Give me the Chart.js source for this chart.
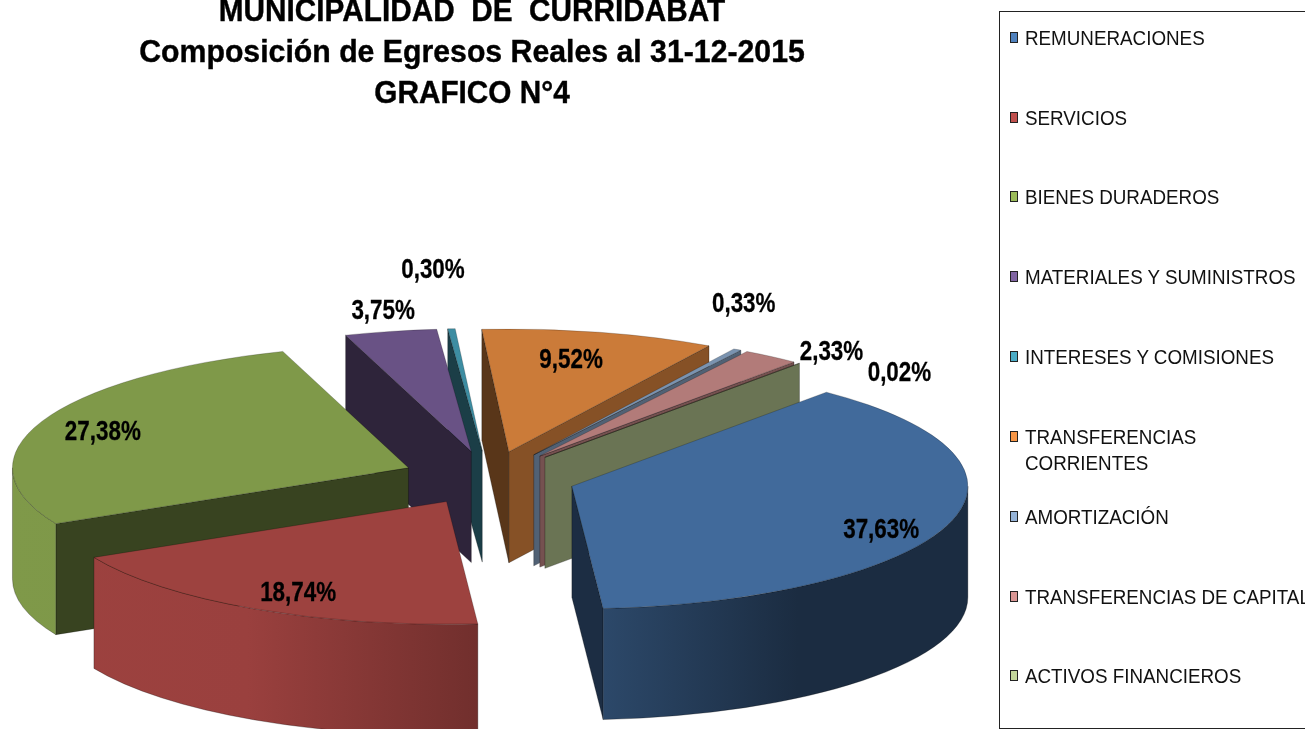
<!DOCTYPE html>
<html lang="es">
<head>
<meta charset="utf-8">
<title>Composición de Egresos Reales</title>
<script src="https://cdn.jsdelivr.net/npm/chart.js@4"></script>
<style>
    html, body { margin: 0; padding: 0; background: #fff; }
    #page { position: relative; width: 1305px; height: 729px; overflow: hidden; font-family: "Liberation Sans", Arial, sans-serif; }
    canvas { position: absolute; left: 0; top: 0; }
    #title { position: absolute; left: 0; top: -10px; width: 944px; text-align: center; font-weight: bold; font-size: 32px; line-height: 41px; color: #000; -webkit-text-stroke: 0.4px #000; }
    #title div { white-space: pre; transform: scaleX(0.93); }
    #title div:nth-child(2) { transform: scaleX(0.945); }
    #legend { position: absolute; left: 999px; top: 11px; width: 400px; height: 716px; border: 1px solid #222; }
    .item { position: absolute; left: 0; width: 400px; font-size: 20px; line-height: 26px; color: #111; white-space: pre; }
    .swatch { position: absolute; left: 10px; top: 7px; width: 6px; height: 9px; border: 1.5px solid #222; }
    .text { position: absolute; left: 25px; top: 0; transform: scaleX(0.94); transform-origin: left top; }
</style>
</head>
<body>
<div id="page">
    <canvas id="chart" width="1305" height="729"></canvas>
    <div id="title"></div>
    <div id="legend"></div>
</div>
<script>
const TITLE_LINES = ['MUNICIPALIDAD  DE  CURRIDABAT', 'Composición de Egresos Reales al 31-12-2015', 'GRAFICO N°4'];
const CATEGORIES = ['REMUNERACIONES', 'SERVICIOS', 'BIENES DURADEROS', 'MATERIALES Y SUMINISTROS', 'INTERESES Y COMISIONES',
    'TRANSFERENCIAS\nCORRIENTES', 'AMORTIZACIÓN', 'TRANSFERENCIAS DE CAPITAL', 'ACTIVOS FINANCIEROS'];
const VALUES = [37.63, 18.74, 27.38, 3.75, 0.30, 9.52, 0.33, 2.33, 0.02];
const COLORS = ['#4f81bd', '#c0504d', '#9bbb59', '#8064a2', '#4bacc6', '#f79646', '#95b3d7', '#d99694', '#c3d69b'];

// Décalage des étiquettes (px) par rapport à leur ancre sur la tranche
const LABEL_NUDGE_X = [0, 10, -5, -22, -24, -12, 43, 102, 146];
const LABEL_NUDGE_Y = [13, 4, 3, -42, -80, 7, -64, -22, -7];
// Centre de chaque ligne de la légende
const LEGEND_ROWS = [38, 118, 197, 277, 357, 437, 517, 597, 676];

const RADIUS = 396;
const SQUASH = 0.31;   // aplatissement de la perspective
const EXPLODE = 87;    // éloignement des tranches
const DEPTH = 111;     // épaisseur du camembert
const TOP_SHADE = 0.82;
const LABEL_ANCHOR = 0.82;
// Ombrage du mur courbe selon la position horizontale
const WALL_STOPS = [[0, 1], [0.25, 0.98], [0.49, 0.72], [0.62, 0.68], [0.82, 0.42], [1, 0.42]];

/**
 * Assombrit une couleur hexadécimale.
 * @param {string} hex - La couleur de base.
 * @param {number} f - Le facteur de luminosité.
 */
function shade(hex, f) {
    const n = parseInt(hex.slice(1), 16);
    const r = Math.round((n >> 16 & 255) * f);
    const g = Math.round((n >> 8 & 255) * f);
    const b = Math.round((n & 255) * f);
    return `rgb(${r}, ${g}, ${b})`;
}

function sliceApex(arc) {
    const mid = (arc.startAngle + arc.endAngle) / 2;
    return {
        x: arc.x + EXPLODE * Math.cos(mid),
        y: arc.y + EXPLODE * SQUASH * Math.sin(mid)
    };
}

function drawRadialWall(ctx, apex, arc, angle, color) {
    const ry = arc.outerRadius * SQUASH;
    const rimX = apex.x + arc.outerRadius * Math.cos(angle);
    const rimY = apex.y + ry * Math.sin(angle);
    ctx.beginPath();
    ctx.moveTo(apex.x, apex.y);
    ctx.lineTo(rimX, rimY);
    ctx.lineTo(rimX, rimY + DEPTH);
    ctx.lineTo(apex.x, apex.y + DEPTH);
    ctx.closePath();
    ctx.fillStyle = color;
    ctx.fill();
    ctx.stroke();
}

function drawOuterWall(ctx, apex, arc, base) {
    const from = Math.max(arc.startAngle, 0);
    const to = Math.min(arc.endAngle, Math.PI);
    if (from >= to) return;
    const R = arc.outerRadius;
    const ry = R * SQUASH;
    const left = arc.x - R - EXPLODE;
    const grad = ctx.createLinearGradient(left, 0, arc.x + R + EXPLODE, 0);
    WALL_STOPS.forEach(([pos, f]) => grad.addColorStop(pos, shade(base, TOP_SHADE * f)));
    ctx.beginPath();
    ctx.ellipse(apex.x, apex.y, R, ry, 0, from, to);
    ctx.ellipse(apex.x, apex.y + DEPTH, R, ry, 0, to, from, true);
    ctx.closePath();
    ctx.fillStyle = grad;
    ctx.fill();
    ctx.stroke();
}

// Dessine les tranches de l'arrière vers l'avant, avec leurs murs
const pie3dPlugin = {
    id: 'pie3d',
    beforeDatasetDraw(chart, args) {
        const ctx = chart.ctx;
        const arcs = args.meta.data;
        const order = arcs.map((arc, i) => i).sort((p, q) => {
            const sinOf = arc => Math.sin((arc.startAngle + arc.endAngle) / 2);
            return sinOf(arcs[p]) - sinOf(arcs[q]);
        });
        order.forEach(i => {
            const arc = arcs[i];
            const apex = sliceApex(arc);
            const base = COLORS[i];
            ctx.save();
            ctx.lineWidth = 0.6;
            ctx.strokeStyle = 'rgba(0, 0, 0, 0.45)';
            if (Math.cos(arc.startAngle) < 0) {
                drawRadialWall(ctx, apex, arc, arc.startAngle, shade(base, TOP_SHADE * 0.44));
            }
            if (Math.cos(arc.endAngle) > 0) {
                const f = arc.endAngle > Math.PI ? 0.66 : 0.43;
                drawRadialWall(ctx, apex, arc, arc.endAngle, shade(base, TOP_SHADE * f));
            }
            drawOuterWall(ctx, apex, arc, base);
            ctx.translate(apex.x, apex.y);
            ctx.scale(1, SQUASH);
            ctx.translate(-arc.x, -arc.y);
            arc.draw(ctx);
            ctx.restore();
        });
        return false;
    },
    afterDatasetsDraw(chart) {
        const ctx = chart.ctx;
        chart.getDatasetMeta(0).data.forEach((arc, i) => {
            const apex = sliceApex(arc);
            const mid = (arc.startAngle + arc.endAngle) / 2;
            const lx = apex.x + LABEL_ANCHOR * arc.outerRadius * Math.cos(mid) + LABEL_NUDGE_X[i];
            const ly = apex.y + LABEL_ANCHOR * arc.outerRadius * SQUASH * Math.sin(mid) + LABEL_NUDGE_Y[i];
            const text = VALUES[i].toFixed(2).replace('.', ',') + '%';
            ctx.save();
            ctx.translate(lx, ly);
            ctx.scale(0.8, 1);
            ctx.font = 'bold 28px "Liberation Sans", Arial, sans-serif';
            ctx.fillStyle = '#000';
            ctx.strokeStyle = '#000';
            ctx.lineWidth = 0.3;
            ctx.textAlign = 'center';
            ctx.textBaseline = 'middle';
            ctx.fillText(text, 0, 0);
            ctx.strokeText(text, 0, 0);
            ctx.restore();
        });
    }
};

new Chart(document.getElementById('chart'), {
    type: 'pie',
    data: {
        labels: CATEGORIES,
        datasets: [{
            data: VALUES,
            backgroundColor: COLORS.map(c => shade(c, TOP_SHADE)),
            borderColor: 'rgba(0, 0, 0, 0.45)',
            borderWidth: 0.7
        }]
    },
    options: {
        responsive: false,
        animation: false,
        events: [],
        rotation: 40,
        radius: RADIUS,
        layout: { padding: { top: 227, right: 327 } },
        plugins: {
            legend: { display: false },
            tooltip: { enabled: false }
        }
    },
    plugins: [pie3dPlugin]
});

// Titre et légende en HTML
document.getElementById('title').innerHTML = TITLE_LINES.map(t => `<div>${t}</div>`).join('');
const legendBox = document.getElementById('legend');
CATEGORIES.forEach((label, i) => {
    const item = document.createElement('div');
    item.className = 'item';
    item.style.top = (LEGEND_ROWS[i] - 12 - 13) + 'px';
    item.innerHTML = `<span class="swatch" style="background:${COLORS[i]}"></span><span class="text">${label}</span>`;
    legendBox.appendChild(item);
});
</script>
</body>
</html>
